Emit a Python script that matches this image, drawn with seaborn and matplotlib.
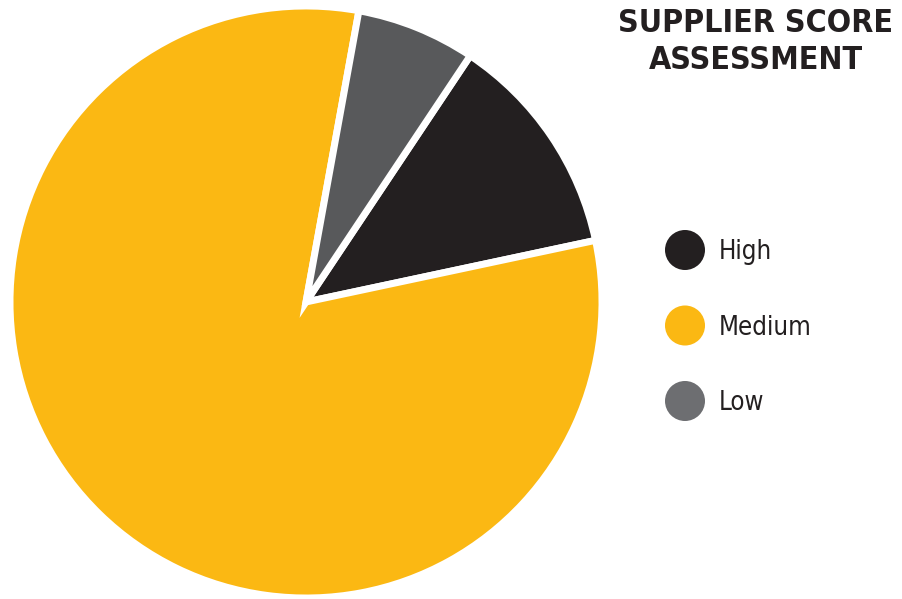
import matplotlib
matplotlib.use("Agg")
import matplotlib.pyplot as plt
import seaborn as sns
import pandas as pd
from matplotlib import font_manager
from matplotlib.font_manager import FontProperties

# Data
categories = ["High", "Medium", "Low"]
shares = [12.3, 81.2, 6.5]
slice_colors = ["#231f20", "#fbb813", "#58595b"]
legend_colors = ["#231f20", "#fbb813", "#6d6e71"]
title_text = "SUPPLIER SCORE\nASSESSMENT"

sns.set_theme(style="white")
plt.rcParams["font.family"] = ["DejaVu Sans"]


def find_condensed(bold):
    best = None
    for f in font_manager.fontManager.ttflist:
        fn = f.fname.lower()
        cond = ("condensed" in fn or "narrow" in fn or str(f.stretch) in ("condensed", "semi-condensed")) \
            and "oblique" not in fn and "italic" not in fn and f.style == "normal"
        if not cond:
            continue
        w = f.weight if isinstance(f.weight, int) else (700 if "bold" in str(f.weight) else 400)
        if bold and w >= 600:
            return f.fname
        if not bold and w < 600 and best is None:
            best = f.fname
    return best


tb = find_condensed(True)
tr = find_condensed(False)
title_fp = FontProperties(fname=tb) if tb else FontProperties(family="DejaVu Sans", weight="bold")
title_size = 23 if tb else 19
label_fp = FontProperties(fname=tr) if tr else FontProperties(family="DejaVu Sans")
label_size = 18.5 if tr else 16.5

W, H = 902, 599
fig = plt.figure(figsize=(W / 100, H / 100), dpi=100)
fig.patch.set_facecolor("white")

# Pie axes: center (306, 302) px, radius 296 px
cx, cy, r = 306, 302, 296
ax = fig.add_axes([(cx - r) / W, (H - cy - r) / H, 2 * r / W, 2 * r / H])
ax.pie(shares, colors=slice_colors, startangle=56.3, counterclock=False,
       radius=1, wedgeprops=dict(edgecolor="white", linewidth=5, joinstyle="miter"))
ax.set_xlim(-1, 1)
ax.set_ylim(-1, 1)
ax.set_aspect("equal")
ax.axis("off")

# Title
fig.text(756 / W, 1 - 42 / H, title_text, ha="center", va="center",
         fontproperties=title_fp, fontsize=title_size, color="#231f20", linespacing=1.22)

# Legend drawn in its own axes
lx0, lx1, ly0, ly1 = 640, 900, 213, 438
lax = fig.add_axes([lx0 / W, (H - ly1) / H, (lx1 - lx0) / W, (ly1 - ly0) / H])
df = pd.DataFrame({"label": categories, "x": [0] * 3, "y": list(range(3))})
sns.scatterplot(data=df, x="x", y="y", hue="label", palette=legend_colors,
                hue_order=categories, s=830, edgecolor="none", legend=False, ax=lax)
px_per_unit = 1000.0
for _, row in df.iterrows():
    lax.text((719 - 685) / px_per_unit, row["y"] + 0.03, row["label"], ha="left", va="center",
             fontproperties=label_fp, fontsize=label_size, color="#231f20")
lax.set_xlim(-(685 - lx0) / px_per_unit, (lx1 - 685) / px_per_unit)
# rows at y = 250, 325, 401 px
lax.set_ylim(2 + (ly1 - 401) / 75.5, -(250 - ly0) / 75.5)
lax.axis("off")

fig.savefig("out.png", dpi=100, facecolor="white")
